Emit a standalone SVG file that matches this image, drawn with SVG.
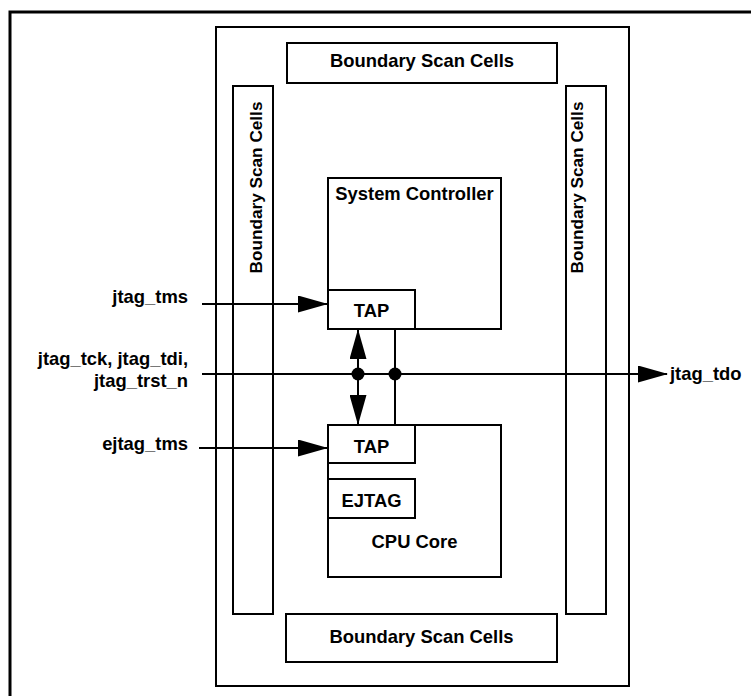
<svg xmlns="http://www.w3.org/2000/svg" width="751" height="696" viewBox="0 0 751 696">
<style>
.box{fill:#fff;stroke:#000;stroke-width:2}
.ln{fill:none;stroke:#000;stroke-width:2}
.t{font-family:"Liberation Sans",Arial,sans-serif;font-weight:bold;font-size:18.4px;fill:#000}
.v{font-family:"Liberation Sans",Arial,sans-serif;font-weight:bold;font-size:17.2px;fill:#000}
.m{text-anchor:middle}
.e{text-anchor:end}
</style>
<defs>
<marker id="ah" viewBox="0 0 30 17" refX="29" refY="8.5" markerWidth="30" markerHeight="17" markerUnits="userSpaceOnUse" orient="auto-start-reverse">
<path d="M0,0 L30,8.5 L0,17 Z" fill="#000"/>
</marker>
</defs>
<rect width="751" height="696" fill="#fff"/>
<rect id="frame" x="10" y="12" width="770" height="720" fill="none" stroke="#000" stroke-width="3"/>
<g id="chip"><rect class="box" x="216" y="27" width="413" height="659"/></g>
<g id="bsc-top"><rect class="box" x="287" y="43" width="270" height="40"/><text class="t m" x="422" y="67">Boundary Scan Cells</text></g>
<g id="bsc-bottom"><rect class="box" x="286" y="614" width="271" height="48"/><text class="t m" x="421.5" y="643">Boundary Scan Cells</text></g>
<g id="bsc-left"><rect class="box" x="233" y="86" width="40" height="528"/><text class="v m" transform="translate(262,187.5) rotate(-90)">Boundary Scan Cells</text></g>
<g id="bsc-right"><rect class="box" x="566" y="86" width="40" height="528"/><text class="v m" transform="translate(583,187.5) rotate(-90)">Boundary Scan Cells</text></g>
<g id="sysctrl"><rect class="box" x="328" y="178" width="173" height="151"/><text class="t m" x="414.5" y="200">System Controller</text></g>
<g id="tap1"><rect class="box" x="328" y="290" width="87" height="39"/><text class="t m" x="371.5" y="317">TAP</text></g>
<g id="cpu"><rect class="box" x="328" y="425" width="173" height="152"/><text class="t m" x="414.5" y="548">CPU Core</text></g>
<g id="tap2"><rect class="box" x="328" y="425" width="87" height="38"/><text class="t m" x="371.5" y="453">TAP</text></g>
<g id="ejtag"><rect class="box" x="328" y="479" width="87" height="39"/><text class="t m" x="371.5" y="507">EJTAG</text></g>
<g id="labels">
<text class="t e" x="188" y="303">jtag_tms</text>
<text class="t e"><tspan x="188" y="365">jtag_tck, jtag_tdi,</tspan><tspan x="188" y="386.5">jtag_trst_n</tspan></text>
<text class="t e" x="188" y="450">ejtag_tms</text>
<text class="t" x="670" y="380">jtag_tdo</text>
</g>
<g id="connectors">
<line class="ln" x1="202" y1="304" x2="327" y2="304" marker-end="url(#ah)"/>
<line class="ln" x1="199" y1="448" x2="327" y2="448" marker-end="url(#ah)"/>
<line class="ln" x1="202" y1="374" x2="667" y2="374" marker-end="url(#ah)"/>
<line class="ln" x1="358" y1="330" x2="358" y2="424" marker-start="url(#ah)" marker-end="url(#ah)"/>
<line class="ln" x1="395" y1="329" x2="395" y2="425"/>
<circle cx="358" cy="374" r="6.5" fill="#000"/>
<circle cx="395" cy="374" r="6.5" fill="#000"/>
</g>
</svg>
